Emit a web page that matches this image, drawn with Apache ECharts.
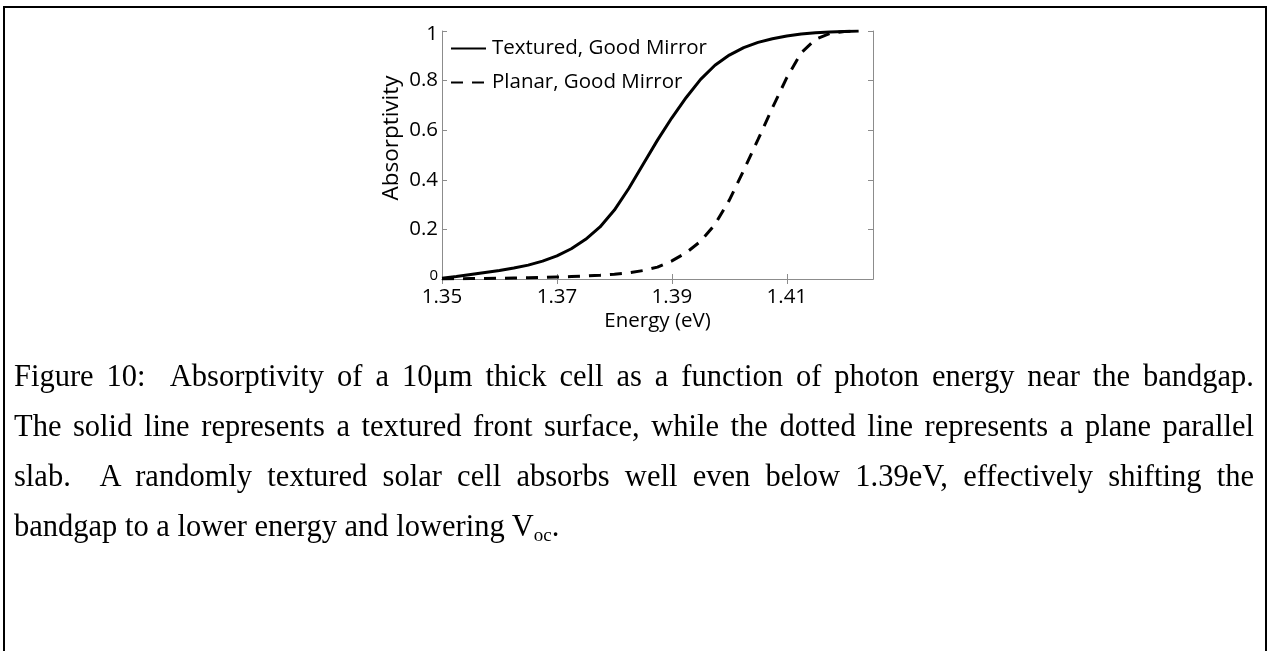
<!DOCTYPE html>
<html>
<head>
<meta charset="utf-8">
<script src="https://cdn.jsdelivr.net/npm/echarts@6/dist/echarts.min.js"></script>
<style>
  html, body { margin: 0; padding: 0; background: #fff; }
  #main { position: absolute; left: 0; top: 0; width: 1267px; height: 651px; }
  #caption {
    position: absolute; left: 14px; top: 351px; width: 1240px;
    font-family: "Liberation Serif", "DejaVu Serif", serif;
    font-size: 30.5px; line-height: 50px; color: #000;
  }
  #caption div { text-align: justify; text-align-last: justify; white-space: nowrap; }
  #caption div.last { text-align-last: left; }
  #caption sub { font-size: 19px; line-height: 0; vertical-align: -5px; }
</style>
</head>
<body>
<div id="main"></div>
<div id="caption">
  <div>Figure 10:&nbsp; Absorptivity of a 10μm thick cell as a function of photon energy near the bandgap.</div>
  <div>The solid line represents a textured front surface, while the dotted line represents a plane parallel</div>
  <div>slab.&nbsp; A randomly textured solar cell absorbs well even below 1.39eV, effectively shifting the</div>
  <div class="last">bandgap to a lower energy and lowering V<sub>oc</sub>.</div>
</div>
<script>
// photon energy (eV)
var energy = [1.3500, 1.3525, 1.3550, 1.3575, 1.3600, 1.3625, 1.3650, 1.3675, 1.3700, 1.3725,
              1.3750, 1.3775, 1.3800, 1.3825, 1.3850, 1.3875, 1.3900, 1.3925, 1.3950, 1.3975,
              1.4000, 1.4025, 1.4050, 1.4075, 1.4100, 1.4125, 1.4150, 1.4175, 1.4200, 1.4225];
// absorptivity, textured front surface
var textured = [0.003, 0.010, 0.018, 0.026, 0.034, 0.044, 0.056, 0.072, 0.093, 0.122,
                0.160, 0.210, 0.278, 0.365, 0.463, 0.560, 0.650, 0.732, 0.805, 0.862,
                0.903, 0.933, 0.954, 0.969, 0.980, 0.988, 0.993, 0.996, 0.998, 1.000];
// absorptivity, planar slab
var planar = [0.000, 0.001, 0.002, 0.002, 0.003, 0.004, 0.005, 0.006, 0.008, 0.010,
              0.012, 0.015, 0.019, 0.025, 0.034, 0.048, 0.073, 0.106, 0.152, 0.220,
              0.318, 0.438, 0.563, 0.690, 0.812, 0.912, 0.967, 0.990, 0.998, 1.000];
var seriesNames = ['Textured, Good Mirror', 'Planar, Good Mirror'];
var xTicks = [1.35, 1.37, 1.39, 1.41];

function pairs(ys) {
  var out = [];
  for (var i = 0; i < energy.length; i++) out.push([energy[i], ys[i]]);
  return out;
}

var mainChart = echarts.init(document.getElementById('main'));
var font = '"Open Sans", "Noto Sans", sans-serif';
var axisGray = '#8c8c8c';

var chartOpt = {
  animation: false,
  backgroundColor: '#fff',
  textStyle: { fontFamily: font, color: '#000' },
  graphic: [{
    type: 'rect',
    shape: { x: 4, y: 7, width: 1262, height: 700 },
    style: { fill: 'none', stroke: '#000', lineWidth: 2 }
  }],
  grid: { left: 442, top: 31, right: 394, bottom: 372 },
  legend: {
    left: 450, top: 38, orient: 'vertical', padding: 0,
    itemWidth: 35, itemHeight: 20, itemGap: 13,
    itemStyle: { opacity: 0 },
    textStyle: { fontFamily: font, fontSize: 20.5, color: '#000', padding: [0, 0, 0, 1] },
    data: seriesNames
  },
  xAxis: [{
    type: 'value', min: 1.35, max: 1.425,
    name: 'Energy (eV)', nameLocation: 'middle', nameGap: 32,
    nameTextStyle: { fontFamily: font, fontSize: 20.5, color: '#000' },
    axisLine: { lineStyle: { color: axisGray, width: 1 } },
    axisTick: { inside: true, length: 5, lineStyle: { color: axisGray }, customValues: xTicks },
    axisLabel: { fontFamily: font, fontSize: 20.5, color: '#000', margin: 8, customValues: xTicks,
                 formatter: function (v) { return v.toFixed(2); } },
    splitLine: { show: false }
  }, {
    type: 'value', min: 1.35, max: 1.425, position: 'top',
    axisLine: { lineStyle: { color: axisGray, width: 1 } },
    axisTick: { inside: true, length: 5, lineStyle: { color: axisGray }, customValues: xTicks },
    axisLabel: { show: false },
    splitLine: { show: false }
  }],
  yAxis: [{
    type: 'value', min: 0, max: 1, interval: 0.2,
    name: 'Absorptivity', nameLocation: 'middle', nameGap: 39,
    nameTextStyle: { fontFamily: font, fontSize: 22.5, color: '#000', padding: [0, 0, 0, 34] },
    axisLine: { show: true, lineStyle: { color: axisGray, width: 1 } },
    axisTick: { show: true, inside: true, length: 5, lineStyle: { color: axisGray } },
    axisLabel: {
      fontFamily: font, fontSize: 20.5, color: '#000', margin: 4,
      formatter: function (v) {
        if (v === 0) return '{s|0}';
        if (v === 1) return '{t|1}';
        return String(Math.round(v * 10) / 10);
      },
      rich: {
        s: { fontFamily: font, fontSize: 15, color: '#000', padding: [0, 0, 6, 0] },
        t: { fontFamily: font, fontSize: 20.5, color: '#000', padding: [6, 0, 0, 0] }
      }
    },
    splitLine: { show: false }
  }, {
    type: 'value', min: 0, max: 1, interval: 0.2, position: 'right',
    axisLine: { show: true, lineStyle: { color: axisGray, width: 1 } },
    axisTick: { show: true, inside: true, length: 5, lineStyle: { color: axisGray } },
    axisLabel: { show: false },
    splitLine: { show: false }
  }],
  series: [{
    name: seriesNames[0], type: 'line', data: pairs(textured),
    symbol: 'none',
    lineStyle: { color: '#000', width: 3 }, itemStyle: { color: '#000' }
  }, {
    name: seriesNames[1], type: 'line', data: pairs(planar),
    symbol: 'none',
    lineStyle: { color: '#000', width: 3, type: [12, 9] }, itemStyle: { color: '#000' }
  }]
};

mainChart.setOption(chartOpt);
</script>
</body>
</html>
